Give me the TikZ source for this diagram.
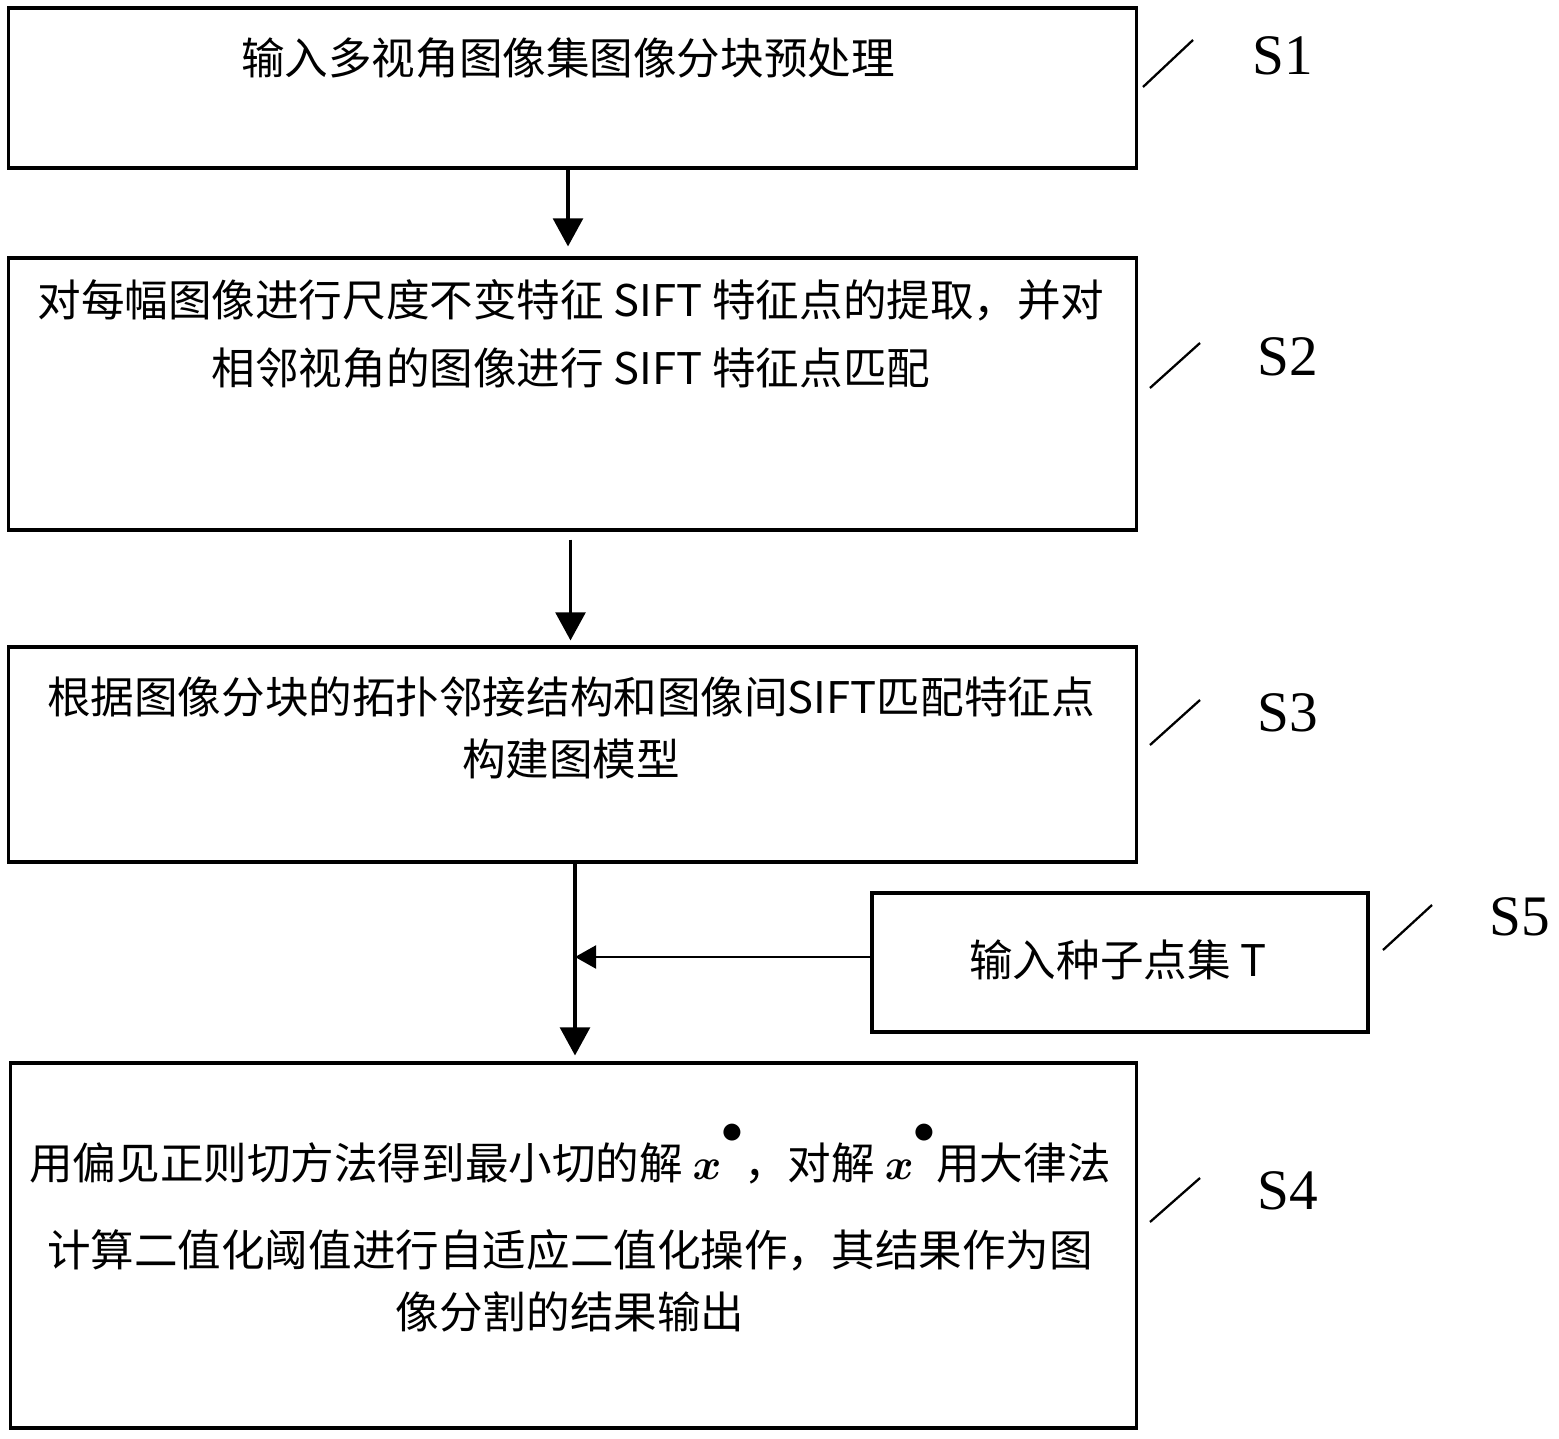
\documentclass[tikz,border=0pt]{standalone}
\usepackage{fontspec}
\usepackage{amsmath}
\usepackage{bm}
\setmainfont{Noto Sans CJK SC}
\newfontfamily\labelfont{Liberation Serif}
\usetikzlibrary{arrows.meta,positioning}
\newcommand{\xsol}{$\bm{x}^{\raisebox{0.45em}{$\textstyle\bullet$}}$}
\tikzset{
  stepbox/.style={draw, line width=1.8pt, rectangle, inner sep=0pt},
  steptext/.style={align=center, inner sep=0pt, font=\fontsize{24.8}{35}\selectfont},
  steplabel/.style={font=\labelfont\fontsize{32.6}{34}\selectfont, inner sep=0pt},
  tick/.style={line width=1.3pt},
  flow/.style={line width=1.8pt, -{Triangle[width=17pt,length=16pt]}},
  feed/.style={line width=1.7pt, -{Triangle[width=13pt,length=12pt]}}
}
\begin{document}
\begin{tikzpicture}[x=0.02cm, y=-0.02cm]
	\useasboundingbox (0,0) rectangle (1559,1439);
	% boxes
	\node[stepbox, minimum width=22.58cm, minimum height=3.2cm] (s1) at (572.5,88) {};
	\node[stepbox, minimum width=22.58cm, minimum height=5.44cm] (s2) at (572.5,394) {};
	\node[stepbox, minimum width=22.58cm, minimum height=4.3cm] (s3) at (572.5,754.5) {};
	\node[stepbox, minimum width=9.92cm, minimum height=2.78cm] (s5) at (1120,962.5) {};
	\node[stepbox, minimum width=22.54cm, minimum height=7.3cm] (s4) at (573.5,1245.5) {};
	% texts
	\node[steptext] (t1) at (568,58) {输入多视角图像集图像分块预处理};
	\node[steptext, font=\fontsize{24.8}{38.6}\selectfont] (t2) at (571,334) {对每幅图像进行尺度不变特征 SIFT 特征点的提取，并对\\相邻视角的图像进行 SIFT 特征点匹配};
	\node[steptext, font=\fontsize{24.8}{35.7}\selectfont] (t3) at (571,728) {根据图像分块的拓扑邻接结构和图像间SIFT匹配特征点\\构建图模型};
	\node[steptext] (t5) at (1118,960) {输入种子点集 T};
	\node[steptext] (t4) at (570,1228) {用偏见正则切方法得到最小切的解 \xsol，对解 \xsol 用大律法\\[0.52cm]计算二值化阈值进行自适应二值化操作，其结果作为图\\像分割的结果输出};
	% step labels
	\node[steplabel] (l1) at (1283,56) {S1};
	\node[steplabel] (l2) at (1288,357) {S2};
	\node[steplabel] (l3) at (1288,713) {S3};
	\node[steplabel] (l5) at (1520,917) {S5};
	\node[steplabel] (l4) at (1288,1191) {S4};
	\draw[tick] ([shift={(-140,31)}]l1.center) -- ++(50,-47);
	\draw[tick] ([shift={(-138,31)}]l2.center) -- ++(50,-45);
	\draw[tick] ([shift={(-138,32)}]l3.center) -- ++(50,-45);
	\draw[tick] ([shift={(-137,33)}]l5.center) -- ++(49,-45);
	\draw[tick] ([shift={(-138,31)}]l4.center) -- ++(50,-44);
	% connectors
	\coordinate (join) at (575,957);
	\draw[flow, shorten >=0.2cm] ([xshift=-0.09cm]s1.south) -- ([xshift=-0.09cm]s2.north);
	\draw[flow, shorten <=0.16cm, shorten >=0.1cm] ([xshift=-0.04cm]s2.south) -- ([xshift=-0.04cm]s3.north);
	\draw[flow, shorten >=0.12cm] (s3.south -| join) -- (s4.north -| join);
	\draw[feed] (s5.west |- join) -- (join);
\end{tikzpicture}
\end{document}
